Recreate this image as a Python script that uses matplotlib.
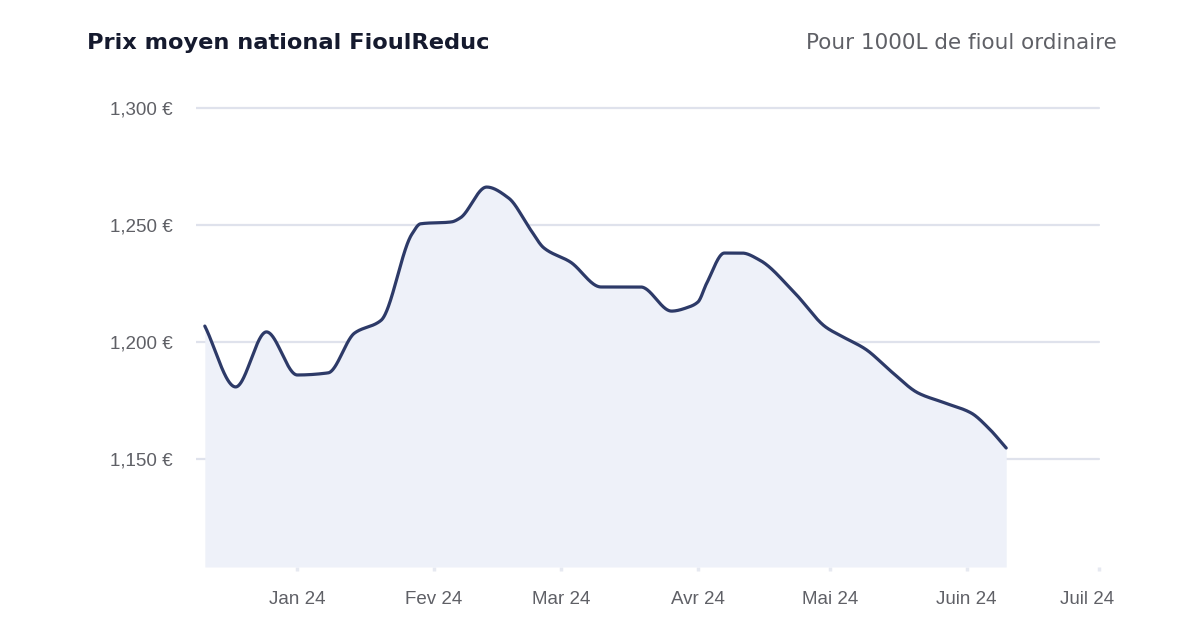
import numpy as np
import pandas as pd
import matplotlib
matplotlib.use("Agg")
import matplotlib.pyplot as plt
import matplotlib.dates as mdates
from matplotlib.transforms import ScaledTranslation

# données (prix moyen pour 1000 L, en €)
dates = [
    "2023-12-11", "2023-12-18", "2023-12-25", "2024-01-01", "2024-01-08",
    "2024-01-14", "2024-01-20", "2024-01-27", "2024-01-29",
    "2024-02-05", "2024-02-07", "2024-02-13", "2024-02-18", "2024-02-23",
    "2024-02-26", "2024-03-03", "2024-03-10", "2024-03-19", "2024-03-26",
    "2024-03-30", "2024-04-01", "2024-04-03", "2024-04-07", "2024-04-11",
    "2024-04-15", "2024-04-23", "2024-04-30", "2024-05-04", "2024-05-09",
    "2024-05-15", "2024-05-21", "2024-05-27", "2024-06-02", "2024-06-06",
    "2024-06-10",
]
prix = [
    1206.8, 1180.8, 1204.3, 1185.9, 1186.8,
    1203.8, 1209.2, 1246.0, 1250.5,
    1251.3, 1253.0, 1266.2, 1261.5, 1247.9,
    1240.2, 1234.2, 1223.5, 1223.5, 1213.2,
    1215.0, 1217.1, 1225.2, 1238.0, 1238.0,
    1235.0, 1220.9, 1206.4, 1202.1, 1197.0,
    1187.2, 1178.2, 1174.0, 1169.7, 1163.2,
    1154.7,
]
mois = ["2024-01-01", "2024-02-01", "2024-03-01", "2024-04-01",
        "2024-05-01", "2024-06-01", "2024-07-01"]
mois_labels = ["Jan 24", "Fev 24", "Mar 24", "Avr 24", "Mai 24", "Juin 24", "Juil 24"]
y_ticks = [1150, 1200, 1250, 1300]

LINE = "#2d3a68"
FILL = "#eef1f9"
GRID = "#dfe2ec"
TXT = "#5f6066"


def monotone(x, y, n=2000):
    # courbe monotone (Fritsch-Carlson), pour le tracé lissé
    x = np.asarray(x, float)
    y = np.asarray(y, float)
    h = np.diff(x)
    d = np.diff(y) / h
    m = np.zeros_like(y)
    m[0], m[-1] = d[0], d[-1]
    for i in range(1, len(y) - 1):
        if d[i - 1] * d[i] <= 0:
            m[i] = 0
        else:
            w1 = 2 * h[i] + h[i - 1]
            w2 = h[i] + 2 * h[i - 1]
            m[i] = (w1 + w2) / (w1 / d[i - 1] + w2 / d[i])
    xs = np.linspace(x[0], x[-1], n)
    k = np.clip(np.searchsorted(x, xs) - 1, 0, len(x) - 2)
    t = (xs - x[k]) / h[k]
    h00 = 2 * t**3 - 3 * t**2 + 1
    h10 = t**3 - 2 * t**2 + t
    h01 = -2 * t**3 + 3 * t**2
    h11 = t**3 - t**2
    ys = h00 * y[k] + h10 * h[k] * m[k] + h01 * y[k + 1] + h11 * h[k] * m[k + 1]
    return xs, ys


x = mdates.date2num(pd.to_datetime(dates))
xs, ys = monotone(x, prix)

fig = plt.figure(figsize=(12, 6.27), dpi=100)
ax = fig.add_axes([196 / 1200, 60 / 627, 904 / 1200, 467 / 627])

ymin, ymax = 1103.85, 1303.4
xt = mdates.date2num(pd.to_datetime(mois))
x0 = mdates.date2num(pd.Timestamp("2023-12-09"))

for v in y_ticks:
    ax.plot([x0, xt[-1]], [v, v], color=GRID, lw=1.6, solid_capstyle="round", zorder=1)

ax.fill_between(xs, ys, ymin, color=FILL, lw=0, zorder=2)
ax.plot(xs, ys, color=LINE, lw=2.3, solid_capstyle="round", zorder=3)

ax.set_xlim(x0, xt[-1] + 0.3)
ax.set_ylim(ymin, ymax)

ax.set_yticks(y_ticks)
ax.set_yticklabels([f"{v:,} €" for v in y_ticks])
ax.set_xticks(xt)
ax.set_xticklabels(mois_labels)
ax.tick_params(axis="y", length=0, pad=17, labelsize=13.5, labelcolor=TXT)
ax.tick_params(axis="x", length=3, width=2.5, color="#e6e9f1", pad=14.5,
               labelsize=13.5, labelcolor=TXT)
for lab in ax.get_xticklabels() + ax.get_yticklabels():
    lab.set_family("Liberation Sans")
for s in ax.spines.values():
    s.set_visible(False)

last = ax.get_xticklabels()[-1]
last.set_transform(last.get_transform() + ScaledTranslation(-12 / 100, 0, fig.dpi_scale_trans))

fig.text(87 / 1200, 1 - 43 / 627, "Prix moyen national FioulReduc",
         fontsize=16.2, fontweight="bold", family="DejaVu Sans", color="#151a2e",
         ha="left", va="center")
fig.text(1117 / 1200, 1 - 43 / 627, "Pour 1000L de fioul ordinaire",
         fontsize=15.5, family="DejaVu Sans", color=TXT, ha="right", va="center")

fig.savefig("out.png", dpi=100, facecolor="white")
